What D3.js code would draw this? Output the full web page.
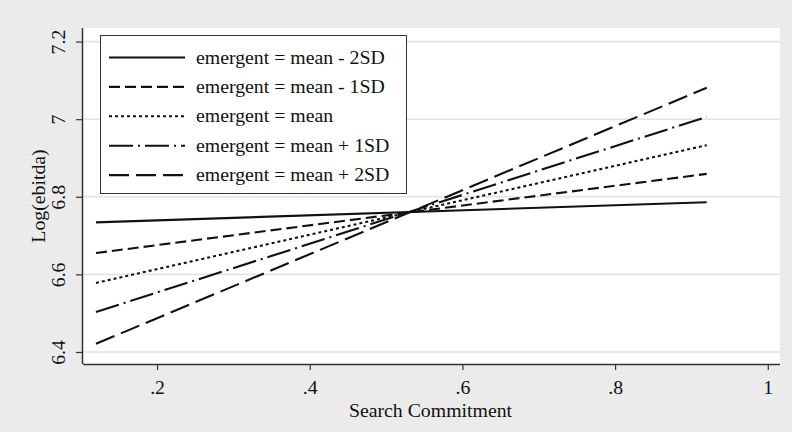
<!DOCTYPE html>
<html>
<head>
<meta charset="utf-8">
<script src="https://cdn.jsdelivr.net/npm/d3@7"></script>
<style>
  html, body { margin: 0; padding: 0; background: #ebebeb; }
  svg { display: block; }
  text { font-family: "Liberation Serif", "Times New Roman", serif; fill: #111; }
</style>
</head>
<body>
<svg id="chart" width="792" height="432"></svg>
<script>
// Predicted Log(ebitda) across Search Commitment, by level of "emergent"
const seriesNames = [
  "emergent = mean - 2SD",
  "emergent = mean - 1SD",
  "emergent = mean",
  "emergent = mean + 1SD",
  "emergent = mean + 2SD"
];
const xValues = [0.12, 0.92];
const startValues = [6.734, 6.655, 6.578, 6.503, 6.421];
const endValues   = [6.786, 6.859, 6.933, 7.006, 7.081];
const xTicks = [0.2, 0.4, 0.6, 0.8, 1];
const xTickLabels = [".2", ".4", ".6", ".8", "1"];
const yTicks = [6.4, 6.6, 6.8, 7, 7.2];
const yTickLabels = ["6.4", "6.6", "6.8", "7", "7.2"];
const dashPatterns = ["none", "11,5", "3,3", "24,5,2,5", "20,7"];

const svg = d3.select("#chart");
const plot = { left: 83, right: 780, top: 28, bottom: 364 };
const fontSize = 19.8;

const x = d3.scaleLinear().domain([0.103, 1.016]).range([plot.left, plot.right]);
const y = d3.scaleLinear().domain([6.369, 7.235]).range([plot.bottom, plot.top]);

// plot region
svg.append("rect")
  .attr("x", plot.left).attr("y", plot.top)
  .attr("width", plot.right - plot.left).attr("height", plot.bottom - plot.top)
  .attr("fill", "#ffffff");

// horizontal grid lines
svg.append("g").selectAll("line").data(yTicks).join("line")
  .attr("x1", plot.left).attr("x2", plot.right)
  .attr("y1", d => y(d)).attr("y2", d => y(d))
  .attr("stroke", "#e3e3e3").attr("stroke-width", 1.6);

// axes
const xAxis = d3.axisBottom(x).tickValues(xTicks)
  .tickFormat((d, i) => xTickLabels[i]).tickSize(6).tickPadding(10);
const gx = svg.append("g").attr("transform", `translate(0,${plot.bottom})`).call(xAxis);
gx.select(".domain").attr("d", `M${plot.left},0.5H${plot.right}`).attr("stroke", "#333").attr("stroke-width", 1.5);
gx.selectAll(".tick line").attr("stroke", "#333").attr("stroke-width", 1.2);
gx.selectAll(".tick text").attr("font-size", fontSize).attr("font-family", "Liberation Serif").attr("fill", "#111");

const yAxis = d3.axisLeft(y).tickValues(yTicks)
  .tickFormat((d, i) => yTickLabels[i]).tickSize(7);
const gy = svg.append("g").attr("transform", `translate(${plot.left},0)`).call(yAxis);
gy.select(".domain").attr("d", `M-0.5,${plot.top}V${plot.bottom}`).attr("stroke", "#333").attr("stroke-width", 1.5);
gy.selectAll(".tick line").attr("stroke", "#333").attr("stroke-width", 1.2);
gy.selectAll(".tick text")
  .attr("x", null).attr("dy", null)
  .attr("transform", "translate(-18,0) rotate(-90)")
  .attr("text-anchor", "middle")
  .attr("font-size", fontSize).attr("font-family", "Liberation Serif").attr("fill", "#111");

// axis titles
svg.append("text")
  .attr("x", (plot.left + plot.right) / 2 - 1).attr("y", 417)
  .attr("text-anchor", "middle").attr("font-size", fontSize)
  .text("Search Commitment");
svg.append("text")
  .attr("transform", `translate(45,${(plot.top + plot.bottom) / 2}) rotate(-90)`)
  .attr("text-anchor", "middle").attr("font-size", fontSize)
  .text("Log(ebitda)");

// prediction lines
const line = d3.line().x(d => x(d[0])).y(d => y(d[1]));
svg.append("g").selectAll("path").data(seriesNames).join("path")
  .attr("d", (d, i) => line(xValues.map((xv, j) => [xv, j === 0 ? startValues[i] : endValues[i]])))
  .attr("fill", "none").attr("stroke", "#111").attr("stroke-width", 2.1)
  .attr("stroke-dasharray", (d, i) => dashPatterns[i]);

// legend
const legend = svg.append("g");
legend.append("rect")
  .attr("x", 100.5).attr("y", 35.5).attr("width", 306).attr("height", 158)
  .attr("fill", "#ffffff").attr("stroke", "#333").attr("stroke-width", 1);
const rowY = i => 57.5 + i * 29.4;
const rows = legend.selectAll("g.row").data(seriesNames).join("g").attr("class", "row");
rows.append("line")
  .attr("x1", 109).attr("x2", 185)
  .attr("y1", (d, i) => rowY(i)).attr("y2", (d, i) => rowY(i))
  .attr("stroke", "#111").attr("stroke-width", 2.1)
  .attr("stroke-dasharray", (d, i) => dashPatterns[i]);
rows.append("text")
  .attr("x", 196).attr("y", (d, i) => rowY(i) + 6)
  .attr("font-size", fontSize)
  .text(d => d);
</script>
</body>
</html>
